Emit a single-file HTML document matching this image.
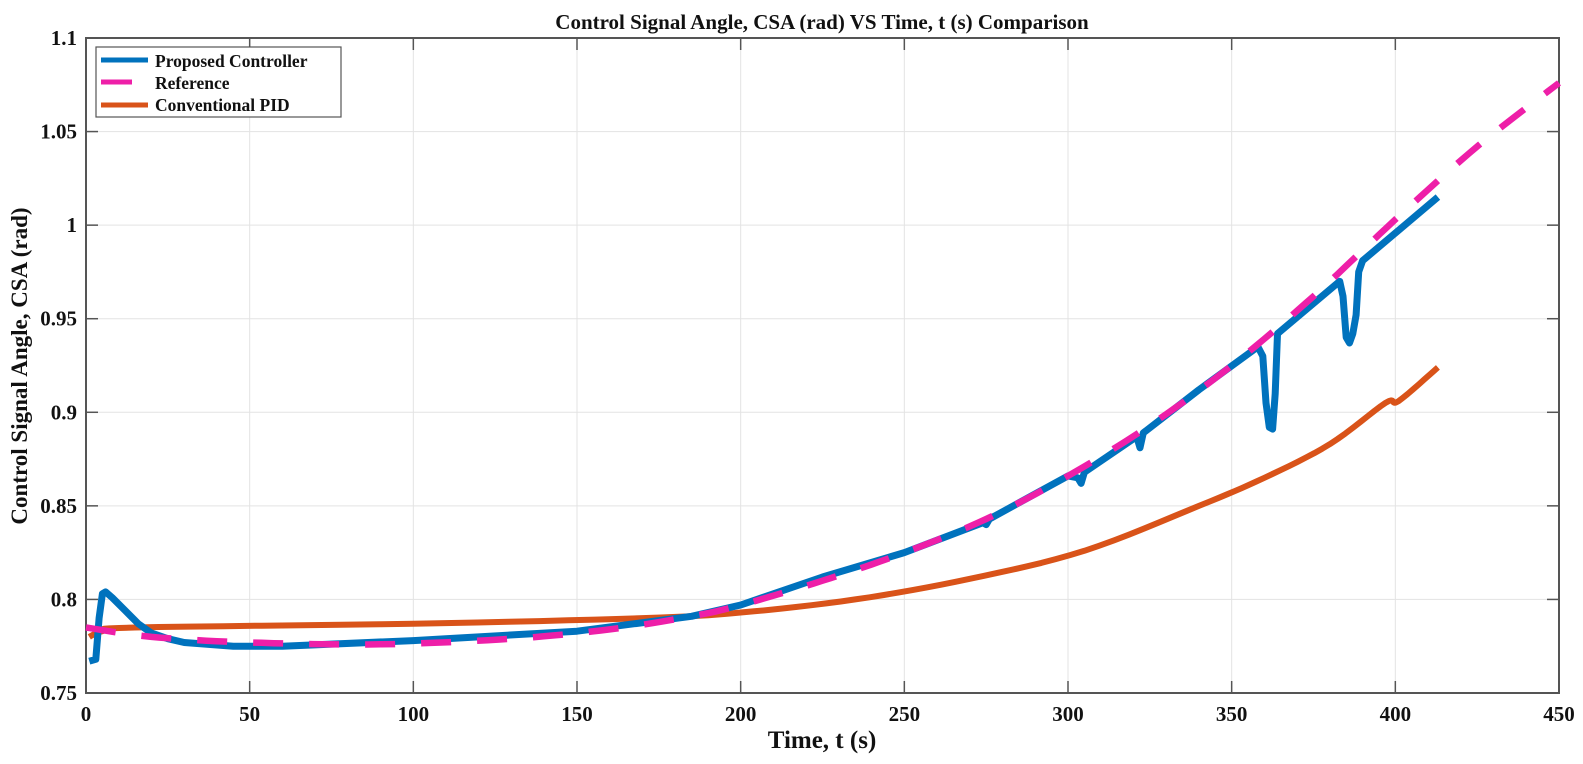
<!DOCTYPE html>
<html><head><meta charset="utf-8"><style>
html,body{margin:0;padding:0;background:#fff;}
svg text{font-family:"Liberation Serif",serif;font-weight:bold;fill:#111;}
</style></head><body>
<svg id="s" width="1583" height="759" xmlns="http://www.w3.org/2000/svg">
<rect width="1583" height="759" fill="#fff"/>
<g id="grid" stroke="#e3e3e3" stroke-width="1"></g>
<rect x="86" y="38" width="1473" height="655" fill="none" stroke="#555" stroke-width="2"/>
<g id="ticks" stroke="#555" stroke-width="1.5"></g>
<g id="lbl" font-size="21"></g>
<path id="pid" fill="none" stroke="#d95319" stroke-width="6" stroke-linejoin="round"/>
<path id="blue" fill="none" stroke="#0072bd" stroke-width="7" stroke-linejoin="round"/>
<path id="ref" fill="none" stroke="#ee1fa8" stroke-width="6.5" stroke-dasharray="30,26"/>
<text x="822" y="29" font-size="21" text-anchor="middle">Control Signal Angle, CSA (rad) VS Time, t (s) Comparison</text>
<text x="822" y="748" font-size="25" text-anchor="middle">Time, t (s)</text>
<text transform="translate(27,366) rotate(-90)" font-size="23" text-anchor="middle">Control Signal Angle, CSA (rad)</text>
<rect x="96" y="47" width="245" height="70" fill="#fff" stroke="#555" stroke-width="1.2"/>
<line x1="101" y1="60" x2="148" y2="60" stroke="#0072bd" stroke-width="5"/>
<line x1="101" y1="82" x2="132" y2="82" stroke="#ee1fa8" stroke-width="5"/>
<line x1="101" y1="105" x2="148" y2="105" stroke="#d95319" stroke-width="5"/>
<text x="155" y="67" font-size="17.5">Proposed Controller</text>
<text x="155" y="89" font-size="17.5">Reference</text>
<text x="155" y="111" font-size="17.5">Conventional PID</text>
</svg>
<script>
var X=t=>86+t*1473/450, Y=v=>693-(v-0.75)*655/0.35;
var g=document.getElementById('grid'),tk=document.getElementById('ticks'),lb=document.getElementById('lbl');
var NS='http://www.w3.org/2000/svg';
function el(p,n,a,txt){var e=document.createElementNS(NS,n);for(var k in a)e.setAttribute(k,a[k]);if(txt!=null)e.textContent=txt;p.appendChild(e);}
for(var t=50;t<450;t+=50){el(g,'line',{x1:X(t),x2:X(t),y1:38,y2:693});}
for(var i=1;i<7;i++){var y=Y(0.75+i*0.05);el(g,'line',{x1:86,x2:1559,y1:y,y2:y});}
for(var t=0;t<=450;t+=50){el(tk,'line',{x1:X(t),x2:X(t),y1:693,y2:681});el(tk,'line',{x1:X(t),x2:X(t),y1:38,y2:50});el(lb,'text',{x:X(t),y:721,'text-anchor':'middle'},String(t));}
var yl=['0.75','0.8','0.85','0.9','0.95','1','1.05','1.1'];
for(var i=0;i<8;i++){var y=Y(0.75+i*0.05);el(tk,'line',{x1:86,x2:98,y1:y,y2:y});el(tk,'line',{x1:1559,x2:1547,y1:y,y2:y});el(lb,'text',{x:77,y:y+7,'text-anchor':'end'},yl[i]);}
function path(k){return k.map((p,i)=>(i?'L':'M')+X(p[0]).toFixed(1)+','+Y(p[1]).toFixed(1)).join('');}
function smooth(k,step){var o=[];for(var i=0;i<k.length-1;i++){var p0=k[Math.max(0,i-1)],p1=k[i],p2=k[i+1],p3=k[Math.min(k.length-1,i+2)];for(var s=0;s<step;s++){var u=s/step,u2=u*u,u3=u2*u;var f=(a,b,c,d)=>0.5*(2*b+(-a+c)*u+(2*a-5*b+4*c-d)*u2+(-a+3*b-3*c+d)*u3);o.push([f(p0[0],p1[0],p2[0],p3[0]),f(p0[1],p1[1],p2[1],p3[1])]);}}o.push(k[k.length-1]);return o;}
var ref=[[0,.785],[20,.780],[50,.777],[90,.776],[130,.779],[160,.784],[185,.791],[200,.797],[225,.810],[250,.825],[275,.843],[300,.866],[325,.893],[350,.925],[375,.962],[400,1.003],[425,1.042],[450,1.076]];
var blue=[[1,.767],[3,.768],[4,.79],[5,.803],[6,.804],[8,.801],[12,.794],[16,.787],[20,.782],[25,.779],[30,.777],[45,.775],[60,.775],[100,.778],[150,.783],[185,.791],[200,.797],[225,.812],[250,.825],[274,.841],[275,.840],[276,.843],[300,.866],[303,.865],[304,.862],[305,.868],[321,.887],[322,.881],[323,.889],[340,.912],[358,.935],[359.5,.93],[360.5,.905],[361.5,.892],[362.5,.891],[363.3,.91],[364,.942],[383,.970],[384,.962],[385,.940],[386,.937],[387,.942],[388,.952],[388.8,.975],[390,.981],[413,1.015]];
var pid=[[1,.780],[5,.783],[15,.785],[100,.787],[170,.790],[200,.793],[235,.800],[270,.811],[305,.826],[340,.850],[360,.865],[380,.883],[397,.905],[401,.906],[413,.924]];
document.getElementById('ref').setAttribute('d',path(smooth(ref,10)));
document.getElementById('blue').setAttribute('d',path(blue));
document.getElementById('pid').setAttribute('d',path(smooth(pid,8)));
</script>
</body></html>
